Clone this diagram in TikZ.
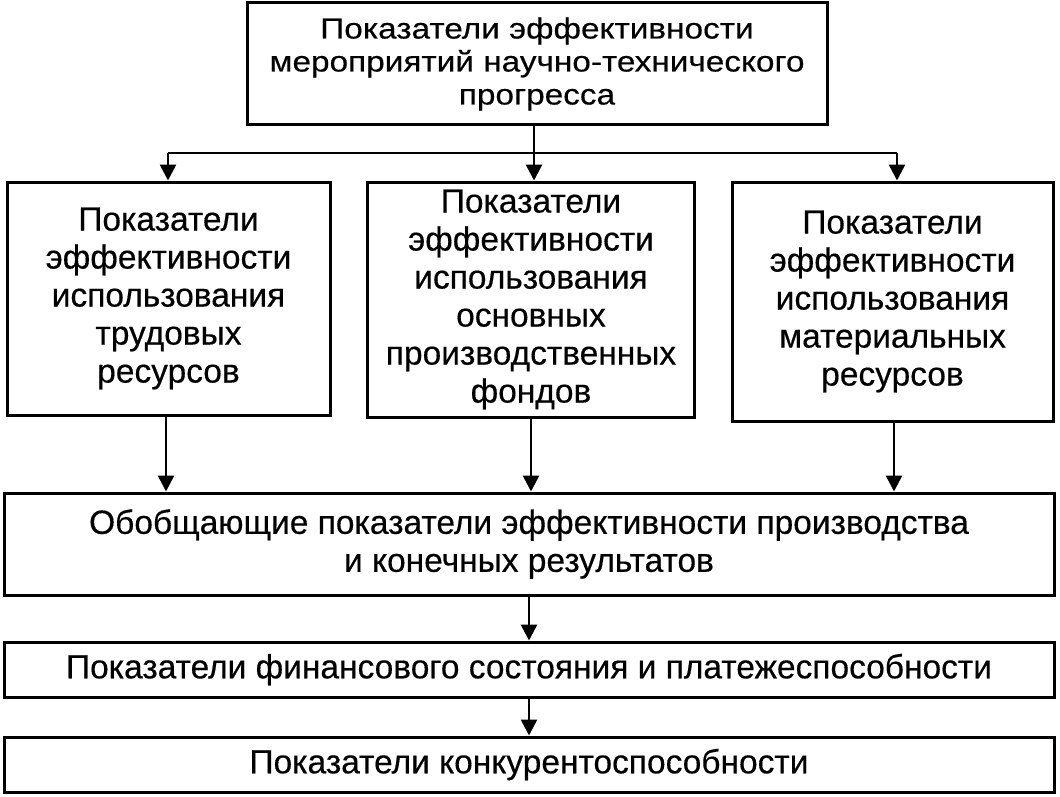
\documentclass[tikz,border=0pt]{standalone}
\usepackage{fontspec}
\setmainfont{Liberation Sans}[FakeBold=0.4]
\newfontfamily\topfont{Liberation Sans}[FakeStretch=1.15,FakeBold=0.4]
\usetikzlibrary{arrows.meta}
\begin{document}
\begin{tikzpicture}[x=1pt,y=-1pt,
  box/.style={draw, line width=3pt, inner sep=0pt, align=center,
    font=\fontsize{33.5}{38}\selectfont},
  topbox/.style={box, font=\topfont\fontsize{29}{33}\selectfont},
  arr/.style={line width=2.6pt, -{Triangle[length=16pt,width=16pt]}},
  conn/.style={line width=2.6pt}]
\useasboundingbox (0,0) rectangle (1060,797);
\node[topbox, minimum width=580pt, minimum height=122pt] (top) at (537,64)
  {Показатели эффективности\\мероприятий научно-технического\\прогресса};
\node[box, minimum width=323pt, minimum height=233pt] (b1) at (168.5,298.5)
  {Показатели\\эффективности\\использования\\трудовых\\ресурсов};
\node[box, minimum width=327pt, minimum height=235pt] (b2) at (531,299.5)
  {Показатели\\эффективности\\использования\\основных\\производственных\\фондов};
\node[box, minimum width=321pt, minimum height=239pt] (b3) at (892.5,301.5)
  {Показатели\\эффективности\\использования\\материальных\\ресурсов};
\node[box, minimum width=1050pt, minimum height=102pt] (gen) at (529,544)
  {Обобщающие показатели эффективности производства\\и конечных результатов};
\node[box, minimum width=1050pt, minimum height=55pt] (fin) at (529,669.5)
  {Показатели финансового состояния и платежеспособности};
\node[box, minimum width=1050pt, minimum height=55pt] (comp) at (529,764.5)
  {Показатели конкурентоспособности};
\coordinate (hl) at (168,153);
\coordinate (hm) at (534,153);
\coordinate (hr) at (897,153);
\draw[conn] (hl) -- (hr);
\draw[arr] (top.south -| hm) -- (b2.north -| hm);
\draw[arr] (hl) -- (b1.north -| hl);
\draw[arr] (hr) -- (b3.north -| hr);
\draw[arr] (b1.south -| 166,0) -- (gen.north -| 166,0);
\draw[arr] (b2.south -| 531,0) -- (gen.north -| 531,0);
\draw[arr] (b3.south -| 894,0) -- (gen.north -| 894,0);
\draw[arr] (gen.south -| 529,0) -- (fin.north -| 529,0);
\draw[arr] (fin.south -| 529,0) -- (comp.north -| 529,0);
\end{tikzpicture}
\end{document}
